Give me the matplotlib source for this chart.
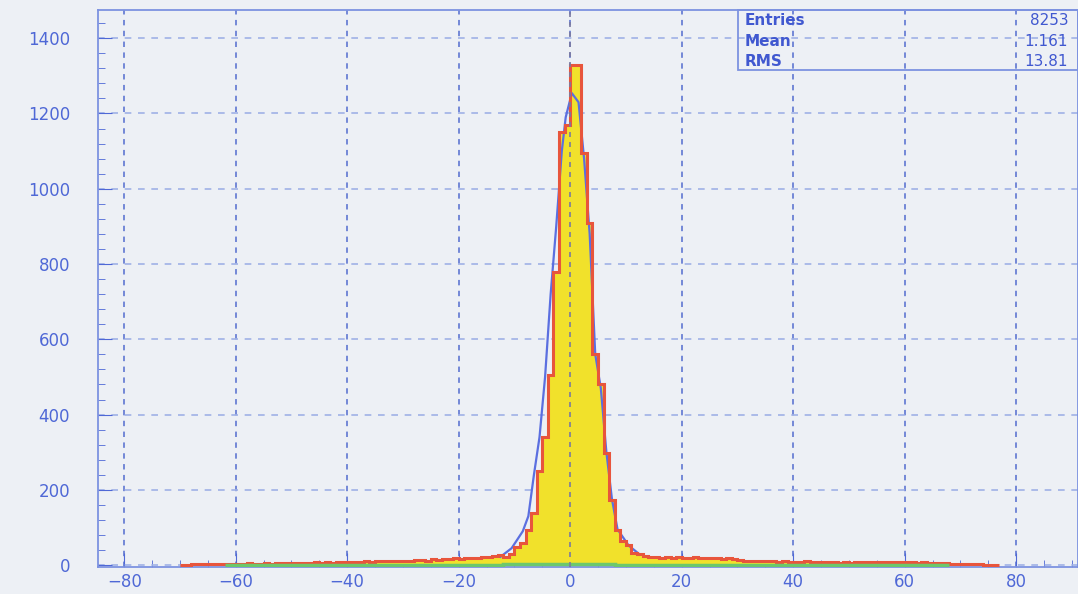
import numpy as np
import matplotlib
matplotlib.use("Agg")
import matplotlib.pyplot as plt
from matplotlib.patches import Rectangle

# histogram: 1-unit bins from -70 to 77
edges = np.arange(-70, 78)
counts = [
    # -70 .. -61
    0, 1, 2, 3, 2, 3, 2, 4, 3, 3,
    # -60 .. -51
    4, 3, 5, 4, 4, 5, 4, 5, 6, 5,
    # -50 .. -41
    5, 6, 5, 6, 7, 6, 7, 6, 8, 7,
    # -40 .. -31
    8, 9, 8, 10, 9, 10, 11, 10, 12, 11,
    # -30 .. -21
    12, 11, 13, 14, 12, 15, 14, 16, 15, 18,
    # -20 .. -13
    17, 19, 18, 20, 22, 21, 24, 26,
    # -12 .. -1
    22, 30, 49, 60, 93, 138, 250, 341, 505, 780, 1150, 1169,
    # 0 .. 14
    1330, 1328, 1095, 909, 560, 480, 297, 173, 93, 65, 53, 31, 30, 25, 22,
    # 15 .. 24
    22, 20, 21, 19, 22, 20, 18, 21, 19, 20,
    # 25 .. 34
    18, 19, 17, 18, 16, 14, 12, 11, 12, 10,
    # 35 .. 44
    11, 10, 9, 10, 9, 8, 9, 10, 9, 8,
    # 45 .. 54
    7, 8, 7, 6, 7, 6, 7, 8, 7, 8,
    # 55 .. 64
    9, 8, 7, 8, 9, 8, 7, 6, 7, 6,
    # 65 .. 76
    5, 6, 5, 4, 4, 3, 3, 2, 2, 1, 1, 0,
]

# second curve (blue) through bin centres of the core
blue_x = [-12.5, -10.5, -8.5, -7.5, -6.5, -5.5, -4.5, -3.5, -2.5, -1.5, -0.8,
          0.3, 1.5, 2.5, 3.5, 4.5, 5.5, 6.5, 7.5, 8.5, 10.5, 12.5]
blue_y = [22, 45, 90, 130, 240, 340, 500, 720, 900, 1100, 1190,
          1254, 1230, 1080, 880, 560, 470, 300, 175, 95, 52, 28]

# third histogram (green), almost empty
green_edges = [-62, -52, -42, -32, -22, -12, -2, 8, 18, 28, 38, 48, 58, 68]
green_counts = [1, 1, 1, 1, 1, 2, 2, 1, 1, 1, 1, 1, 1]

stat_names = ["Entries", "Mean", "RMS"]
stat_values = ["8253", "1.161", "13.81"]

bg = "#edf0f5"
txt = "#4f68d6"

fig = plt.figure(figsize=(10.78, 5.94), dpi=100, facecolor=bg)
ax = fig.add_axes([98 / 1078, 1 - 567 / 594, 980 / 1078, 557 / 594])
ax.set_facecolor(bg)

ax.stairs(counts, edges, fill=True, color="#f1e12b", zorder=2)
ax.plot(blue_x, blue_y, color="#5b6fe0", lw=1.6, zorder=2.5)
ax.stairs(counts, edges, color="#e8553c", lw=2.2, zorder=3)
ax.stairs(green_counts, green_edges, color="#6cc86c", lw=2.5, zorder=3)

ax.set_xlim(-84.7, 91.1)
ax.set_ylim(-5, 1475)

ax.set_xticks(np.arange(-80, 81, 20))
ax.set_xticks(np.arange(-80, 91, 5), minor=True)
ax.set_yticks(np.arange(0, 1401, 200))
ax.set_yticks(np.arange(0, 1475, 40), minor=True)

ax.grid(True, which="major", axis="x", color="#6a80d4", lw=1.3,
        linestyle=(0, (3, 3)), zorder=1)
ax.grid(True, which="major", axis="y", color="#9fb1e6", lw=1.2,
        linestyle=(0, (4, 4)), zorder=1)
# zero line drawn over the filled histogram
ax.axvline(0, color="#7a7aa0", lw=1.2, linestyle=(0, (3, 3)), zorder=5)

ax.tick_params(axis="both", which="both", direction="in", colors=txt,
               labelcolor=txt, labelsize=12)
ax.tick_params(axis="y", which="major", length=10, pad=20)
ax.tick_params(axis="y", which="minor", length=5)
ax.tick_params(axis="x", which="major", length=10, pad=4)
ax.tick_params(axis="x", which="minor", length=5)

for side in ("left", "bottom", "top", "right"):
    ax.spines[side].set_color("#7d92e0")
    ax.spines[side].set_linewidth(1.3)

# statistics box
x0 = (738 - 98) / 980
y0 = 1 - (70 - 10) / 557
ax.add_patch(Rectangle((x0, y0), 1.0 - x0, 1.0 - y0, transform=ax.transAxes,
                       fill=False, edgecolor="#7d92e0", lw=1.3, zorder=6,
                       clip_on=False))
row_y = [0.982, 0.943, 0.907]
for name, value, yy in zip(stat_names, stat_values, row_y):
    ax.text(0.660, yy, name, transform=ax.transAxes, color="#4058d0",
            fontsize=11, fontweight="bold", va="center", ha="left", zorder=7)
    ax.text(0.990, yy, value, transform=ax.transAxes, color="#4058d0",
            fontsize=11, va="center", ha="right", zorder=7)

fig.savefig("out.png", dpi=100, facecolor=bg)
